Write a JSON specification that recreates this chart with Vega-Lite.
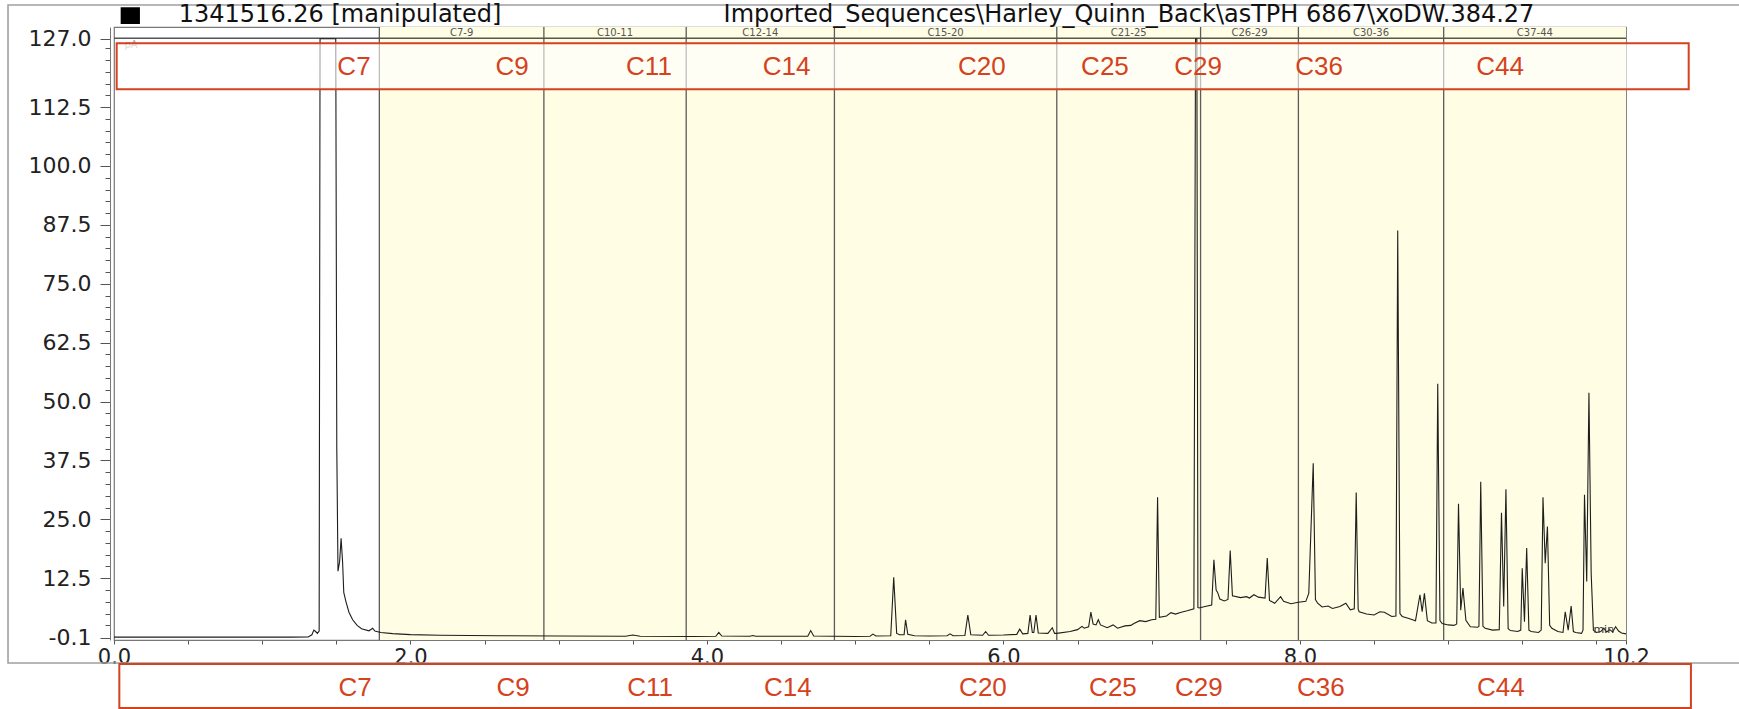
{
  "$schema": "https://vega.github.io/schema/vega-lite/v6.json",
  "width": 1512,
  "height": 613,
  "autosize": {"type": "none"},
  "padding": {"left": 114, "top": 27, "right": 113, "bottom": 69},
  "background": "white",
  "config": {"view": {"stroke": "#777", "strokeWidth": 1.2}, "font": "DejaVu Sans", "axis": {"labelOverlap": false}},
  "resolve": {"axis": {"y": "independent"}},
  "datasets": {
    "signal": [
      {"t": 0.0, "pA": 0.0}, {"t": 0.4, "pA": 0.0}, {"t": 0.8, "pA": 0.0}, {"t": 1.2, "pA": 0.0},
      {"t": 1.31, "pA": 0.05}, {"t": 1.335, "pA": 0.5}, {"t": 1.348, "pA": 1.5}, {"t": 1.36, "pA": 1.2},
      {"t": 1.372, "pA": 0.8}, {"t": 1.384, "pA": 1.3}, {"t": 1.39, "pA": 127}, {"t": 1.496, "pA": 127},
      {"t": 1.503, "pA": 40}, {"t": 1.511, "pA": 14}, {"t": 1.522, "pA": 16}, {"t": 1.532, "pA": 21},
      {"t": 1.542, "pA": 16}, {"t": 1.55, "pA": 9.5}, {"t": 1.565, "pA": 7.5}, {"t": 1.585, "pA": 5.3},
      {"t": 1.61, "pA": 3.7}, {"t": 1.64, "pA": 2.5}, {"t": 1.67, "pA": 1.8}, {"t": 1.72, "pA": 1.35},
      {"t": 1.745, "pA": 1.9}, {"t": 1.76, "pA": 1.3}, {"t": 1.8, "pA": 1.0}, {"t": 1.88, "pA": 0.75},
      {"t": 2.0, "pA": 0.55}, {"t": 2.2, "pA": 0.4}, {"t": 2.6, "pA": 0.3}, {"t": 3.0, "pA": 0.25},
      {"t": 3.45, "pA": 0.2}, {"t": 3.5, "pA": 0.45}, {"t": 3.55, "pA": 0.2}, {"t": 3.9, "pA": 0.15},
      {"t": 4.06, "pA": 0.2}, {"t": 4.08, "pA": 1.0}, {"t": 4.1, "pA": 0.25}, {"t": 4.29, "pA": 0.2},
      {"t": 4.31, "pA": 0.35}, {"t": 4.33, "pA": 0.2}, {"t": 4.68, "pA": 0.2}, {"t": 4.7, "pA": 1.4},
      {"t": 4.72, "pA": 0.25}, {"t": 5.0, "pA": 0.15}, {"t": 5.1, "pA": 0.2}, {"t": 5.12, "pA": 0.65},
      {"t": 5.14, "pA": 0.25}, {"t": 5.24, "pA": 0.3}, {"t": 5.26, "pA": 12.7}, {"t": 5.28, "pA": 0.8},
      {"t": 5.3, "pA": 0.5}, {"t": 5.33, "pA": 0.5}, {"t": 5.34, "pA": 3.7}, {"t": 5.355, "pA": 0.6},
      {"t": 5.4, "pA": 0.3}, {"t": 5.5, "pA": 0.25}, {"t": 5.62, "pA": 0.3}, {"t": 5.64, "pA": 0.7},
      {"t": 5.66, "pA": 0.3}, {"t": 5.74, "pA": 0.35}, {"t": 5.76, "pA": 4.7}, {"t": 5.78, "pA": 0.5},
      {"t": 5.86, "pA": 0.4}, {"t": 5.88, "pA": 1.2}, {"t": 5.9, "pA": 0.4}, {"t": 6.0, "pA": 0.45},
      {"t": 6.09, "pA": 0.6}, {"t": 6.11, "pA": 1.7}, {"t": 6.13, "pA": 0.7}, {"t": 6.165, "pA": 0.8},
      {"t": 6.18, "pA": 4.7}, {"t": 6.195, "pA": 1.0}, {"t": 6.205, "pA": 1.0}, {"t": 6.22, "pA": 4.7},
      {"t": 6.235, "pA": 0.9}, {"t": 6.3, "pA": 0.8}, {"t": 6.33, "pA": 2.0}, {"t": 6.345, "pA": 0.8},
      {"t": 6.36, "pA": 0.8}, {"t": 6.45, "pA": 1.2}, {"t": 6.5, "pA": 1.6}, {"t": 6.53, "pA": 2.3},
      {"t": 6.545, "pA": 1.9}, {"t": 6.575, "pA": 2.2}, {"t": 6.59, "pA": 5.3}, {"t": 6.605, "pA": 2.8},
      {"t": 6.625, "pA": 2.6}, {"t": 6.64, "pA": 3.7}, {"t": 6.655, "pA": 2.6}, {"t": 6.7, "pA": 2.0},
      {"t": 6.74, "pA": 2.6}, {"t": 6.77, "pA": 1.9}, {"t": 6.82, "pA": 2.4}, {"t": 6.86, "pA": 2.5},
      {"t": 6.88, "pA": 2.9}, {"t": 6.92, "pA": 3.5}, {"t": 6.96, "pA": 3.3}, {"t": 7.0, "pA": 3.7},
      {"t": 7.028, "pA": 3.8}, {"t": 7.04, "pA": 29.7}, {"t": 7.052, "pA": 4.2}, {"t": 7.1, "pA": 4.5},
      {"t": 7.13, "pA": 5.2}, {"t": 7.16, "pA": 4.9}, {"t": 7.2, "pA": 5.3}, {"t": 7.24, "pA": 5.6},
      {"t": 7.285, "pA": 6.0}, {"t": 7.296, "pA": 127}, {"t": 7.305, "pA": 127}, {"t": 7.312, "pA": 6.3},
      {"t": 7.32, "pA": 6.2}, {"t": 7.36, "pA": 6.5}, {"t": 7.405, "pA": 6.8}, {"t": 7.42, "pA": 16.4},
      {"t": 7.435, "pA": 10}, {"t": 7.445, "pA": 9.5}, {"t": 7.46, "pA": 8.1}, {"t": 7.49, "pA": 7.7},
      {"t": 7.515, "pA": 8.0}, {"t": 7.53, "pA": 18.4}, {"t": 7.545, "pA": 8.8}, {"t": 7.6, "pA": 8.4},
      {"t": 7.64, "pA": 8.6}, {"t": 7.66, "pA": 8.3}, {"t": 7.69, "pA": 9.0}, {"t": 7.72, "pA": 8.5},
      {"t": 7.765, "pA": 8.3}, {"t": 7.78, "pA": 16.8}, {"t": 7.795, "pA": 7.8}, {"t": 7.83, "pA": 7.2},
      {"t": 7.87, "pA": 8.6}, {"t": 7.89, "pA": 7.6}, {"t": 7.94, "pA": 7.1}, {"t": 7.99, "pA": 7.4},
      {"t": 8.04, "pA": 7.6}, {"t": 8.06, "pA": 9.3}, {"t": 8.09, "pA": 36.9}, {"t": 8.105, "pA": 8.0},
      {"t": 8.12, "pA": 7.2}, {"t": 8.15, "pA": 6.4}, {"t": 8.19, "pA": 6.6}, {"t": 8.22, "pA": 6.1},
      {"t": 8.27, "pA": 6.5}, {"t": 8.31, "pA": 7.2}, {"t": 8.34, "pA": 5.8}, {"t": 8.367, "pA": 6.0},
      {"t": 8.38, "pA": 30.7}, {"t": 8.393, "pA": 6.0}, {"t": 8.4, "pA": 5.4}, {"t": 8.45, "pA": 4.9},
      {"t": 8.5, "pA": 4.7}, {"t": 8.54, "pA": 5.4}, {"t": 8.57, "pA": 5.3}, {"t": 8.62, "pA": 4.4},
      {"t": 8.648, "pA": 4.5}, {"t": 8.66, "pA": 86.3}, {"t": 8.675, "pA": 5.0}, {"t": 8.69, "pA": 4.4},
      {"t": 8.73, "pA": 4.0}, {"t": 8.78, "pA": 3.5}, {"t": 8.81, "pA": 9.0}, {"t": 8.825, "pA": 5.4},
      {"t": 8.84, "pA": 9.3}, {"t": 8.86, "pA": 3.5}, {"t": 8.89, "pA": 3.0}, {"t": 8.918, "pA": 3.0},
      {"t": 8.93, "pA": 53.8}, {"t": 8.945, "pA": 3.5}, {"t": 8.96, "pA": 2.9}, {"t": 9.0, "pA": 2.6},
      {"t": 9.04, "pA": 2.5}, {"t": 9.058, "pA": 2.8}, {"t": 9.07, "pA": 28.3}, {"t": 9.085, "pA": 5.7},
      {"t": 9.1, "pA": 10.4}, {"t": 9.12, "pA": 3.6}, {"t": 9.15, "pA": 2.2}, {"t": 9.2, "pA": 2.1},
      {"t": 9.208, "pA": 2.3}, {"t": 9.22, "pA": 33.0}, {"t": 9.235, "pA": 2.3}, {"t": 9.25, "pA": 1.9},
      {"t": 9.3, "pA": 1.5}, {"t": 9.345, "pA": 1.6}, {"t": 9.36, "pA": 26.4}, {"t": 9.375, "pA": 6.5},
      {"t": 9.39, "pA": 31.4}, {"t": 9.405, "pA": 1.8}, {"t": 9.42, "pA": 1.4}, {"t": 9.47, "pA": 1.2},
      {"t": 9.49, "pA": 1.5}, {"t": 9.5, "pA": 14.6}, {"t": 9.515, "pA": 3.3}, {"t": 9.53, "pA": 18.9},
      {"t": 9.545, "pA": 1.5}, {"t": 9.56, "pA": 1.2}, {"t": 9.61, "pA": 1.0}, {"t": 9.628, "pA": 1.5},
      {"t": 9.64, "pA": 29.7}, {"t": 9.655, "pA": 15.7}, {"t": 9.67, "pA": 23.5}, {"t": 9.685, "pA": 2.5},
      {"t": 9.7, "pA": 1.9}, {"t": 9.74, "pA": 1.2}, {"t": 9.775, "pA": 1.0}, {"t": 9.79, "pA": 5.4},
      {"t": 9.81, "pA": 1.5}, {"t": 9.83, "pA": 6.6}, {"t": 9.845, "pA": 1.2}, {"t": 9.86, "pA": 1.0},
      {"t": 9.9, "pA": 0.8}, {"t": 9.91, "pA": 1.5}, {"t": 9.92, "pA": 30.2}, {"t": 9.935, "pA": 11.8},
      {"t": 9.95, "pA": 51.9}, {"t": 9.965, "pA": 13.6}, {"t": 9.98, "pA": 1.5}, {"t": 10.0, "pA": 1.0},
      {"t": 10.03, "pA": 1.2}, {"t": 10.05, "pA": 1.9}, {"t": 10.07, "pA": 1.1}, {"t": 10.09, "pA": 1.6},
      {"t": 10.11, "pA": 1.1}, {"t": 10.13, "pA": 2.2}, {"t": 10.15, "pA": 1.3}, {"t": 10.17, "pA": 0.9},
      {"t": 10.2, "pA": 0.7}
    ],
    "bands": [
      {"range": "C7-9", "start": 1.79, "end": 2.9, "mid": 2.345},
      {"range": "C10-11", "start": 2.9, "end": 3.86, "mid": 3.38},
      {"range": "C12-14", "start": 3.86, "end": 4.86, "mid": 4.36},
      {"range": "C15-20", "start": 4.86, "end": 6.36, "mid": 5.61},
      {"range": "C21-25", "start": 6.36, "end": 7.33, "mid": 6.845},
      {"range": "C26-29", "start": 7.33, "end": 7.99, "mid": 7.66},
      {"range": "C30-36", "start": 7.99, "end": 8.97, "mid": 8.48},
      {"range": "C37-44", "start": 8.97, "end": 10.2, "mid": 9.585}
    ],
    "markers": [
      {"row": "top", "name": "C7", "t": 1.619}, {"row": "top", "name": "C9", "t": 2.685},
      {"row": "top", "name": "C11", "t": 3.609}, {"row": "top", "name": "C14", "t": 4.537},
      {"row": "top", "name": "C20", "t": 5.855}, {"row": "top", "name": "C25", "t": 6.685},
      {"row": "top", "name": "C29", "t": 7.313}, {"row": "top", "name": "C36", "t": 8.129},
      {"row": "top", "name": "C44", "t": 9.35},
      {"row": "bottom", "name": "C7", "t": 1.626}, {"row": "bottom", "name": "C9", "t": 2.692},
      {"row": "bottom", "name": "C11", "t": 3.616}, {"row": "bottom", "name": "C14", "t": 4.546},
      {"row": "bottom", "name": "C20", "t": 5.862}, {"row": "bottom", "name": "C25", "t": 6.739},
      {"row": "bottom", "name": "C29", "t": 7.319}, {"row": "bottom", "name": "C36", "t": 8.142},
      {"row": "bottom", "name": "C44", "t": 9.356}
    ],
    "headings": [
      {"text": "1341516.26 [manipulated]", "t": 1.525},
      {"text": "Imported_Sequences\\Harley_Quinn_Back\\asTPH 6867\\xoDW.384.27", "t": 6.847}
    ],
    "one": [{"item": 1}]
  },
  "layer": [
    {
      "data": {"name": "one"},
      "mark": {"type": "rect", "fill": null, "stroke": "#a0a0a0", "strokeWidth": 1.6},
      "encoding": {
        "x": {"datum": -0.715, "type": "quantitative"}, "x2": {"datum": 11.1},
        "y": {"datum": -5.47, "type": "quantitative", "axis": null}, "y2": {"datum": 134.17}
      }
    },
    {
      "data": {"name": "bands"},
      "mark": {"type": "rect", "fill": "#fffde3"},
      "encoding": {"x": {"field": "start", "type": "quantitative"}, "x2": {"field": "end"}}
    },
    {
      "data": {"name": "bands"},
      "mark": {"type": "rule", "stroke": "#5c5c5c", "strokeWidth": 1.3},
      "encoding": {"x": {"field": "start", "type": "quantitative"}}
    },
    {
      "data": {"name": "bands"},
      "mark": {"type": "text", "fontSize": 10, "fill": "#555", "baseline": "middle"},
      "encoding": {
        "x": {"field": "mid", "type": "quantitative"},
        "y": {"datum": 128.3, "type": "quantitative", "axis": null},
        "text": {"field": "range"}
      }
    },
    {
      "data": {"name": "one"},
      "mark": {"type": "rule", "stroke": "#555", "strokeWidth": 1.6},
      "encoding": {
        "x": {"datum": 0, "type": "quantitative"}, "x2": {"datum": 10.2},
        "y": {"datum": 127.1, "type": "quantitative", "axis": null}
      }
    },
    {
      "data": {"name": "one"},
      "mark": {"type": "rule", "strokeOpacity": 0},
      "encoding": {
        "y": {
          "datum": 0, "type": "quantitative",
          "axis": {
            "orient": "left", "offset": 4, "title": null, "grid": false, "domain": false, "labels": false,
            "values": [2.5, 5, 7.5, 10, 15, 17.5, 20, 22.5, 27.5, 30, 32.5, 35, 40, 42.5, 45, 47.5, 52.5, 55, 57.5, 60, 65, 67.5, 70, 72.5, 77.5, 80, 82.5, 85, 90, 92.5, 95, 97.5, 102.5, 105, 107.5, 110, 115, 117.5, 120, 122.5, 125],
            "tickSize": 5, "tickColor": "#555"
          }
        }
      }
    },
    {
      "data": {"name": "signal"},
      "mark": {"type": "line", "stroke": "#1e1e1e", "strokeWidth": 1.1},
      "encoding": {
        "x": {
          "field": "t", "type": "quantitative",
          "scale": {"domain": [0, 10.2], "nice": false, "zero": false},
          "axis": {
            "title": null, "grid": false,
            "values": [0, 0.5, 1, 1.5, 2, 2.5, 3, 3.5, 4, 4.5, 5, 5.5, 6, 6.5, 7, 7.5, 8, 8.5, 9, 9.5, 10, 10.2],
            "labelExpr": "indexof([0, 2, 4, 6, 8, 10.2], datum.value) >= 0 ? format(datum.value, '.1f') : ''",
            "tickSize": 4, "tickColor": "#555", "domainColor": "#777",
            "labelFont": "DejaVu Sans", "labelFontSize": 21, "labelColor": "#222", "labelPadding": 2,
            "labelFlush": false, "labelOverlap": false, "labelBound": false
          }
        },
        "y": {
          "field": "pA", "type": "quantitative",
          "scale": {"domain": [-0.6, 129.5], "nice": false, "zero": false},
          "axis": {
            "orient": "left", "title": null, "grid": false, "offset": 4,
            "values": [-0.1, 12.5, 25, 37.5, 50, 62.5, 75, 87.5, 100, 112.5, 127],
            "labelExpr": "replace(format(datum.value, '.1f'), '\u2212', '-')",
            "tickSize": 10, "tickColor": "#555", "domainColor": "#777",
            "labelFont": "DejaVu Sans", "labelFontSize": 22, "labelColor": "#222", "labelPadding": 9,
            "labelOverlap": false, "labelBound": false, "labelFlush": false
          }
        }
      }
    },
    {
      "data": {"name": "one"},
      "mark": {"type": "text", "fontSize": 10, "fill": "#a8a8a8", "align": "left", "baseline": "middle", "text": "pA"},
      "encoding": {"x": {"datum": 0.07, "type": "quantitative"}, "y": {"datum": 125.6, "type": "quantitative", "axis": null}}
    },
    {
      "data": {"name": "one"},
      "mark": {"type": "text", "fontSize": 11, "fill": "#333", "align": "center", "baseline": "middle", "text": "min"},
      "encoding": {"x": {"datum": 10.05, "type": "quantitative"}, "y": {"datum": 1.6, "type": "quantitative", "axis": null}}
    },
    {
      "data": {"name": "one"},
      "mark": {"type": "rect", "fill": "white", "fillOpacity": 0.6, "stroke": "#d4421e", "strokeWidth": 2},
      "encoding": {
        "x": {"datum": 0.018, "type": "quantitative"}, "x2": {"datum": 10.623},
        "y": {"datum": 116.28, "type": "quantitative", "axis": null}, "y2": {"datum": 126.04}
      }
    },
    {
      "data": {"name": "one"},
      "mark": {"type": "rect", "fill": null, "stroke": "#d4421e", "strokeWidth": 2},
      "encoding": {
        "x": {"datum": 0.036, "type": "quantitative"}, "x2": {"datum": 10.638},
        "y": {"datum": -15.02, "type": "quantitative", "axis": null}, "y2": {"datum": -5.69}
      }
    },
    {
      "data": {"name": "markers"},
      "transform": [{"filter": "datum.row === 'top'"}],
      "mark": {"type": "text", "font": "Liberation Sans", "fontSize": 26, "fill": "#d4421e", "baseline": "middle"},
      "encoding": {
        "x": {"field": "t", "type": "quantitative"},
        "y": {"datum": 121.07, "type": "quantitative", "axis": null},
        "text": {"field": "name"}
      }
    },
    {
      "data": {"name": "markers"},
      "transform": [{"filter": "datum.row === 'bottom'"}],
      "mark": {"type": "text", "font": "Liberation Sans", "fontSize": 26, "fill": "#d4421e", "baseline": "middle"},
      "encoding": {
        "x": {"field": "t", "type": "quantitative"},
        "y": {"datum": -10.78, "type": "quantitative", "axis": null},
        "text": {"field": "name"}
      }
    },
    {
      "data": {"name": "one"},
      "mark": {"type": "rect", "fill": "#000"},
      "encoding": {
        "x": {"datum": 0.045, "type": "quantitative"}, "x2": {"datum": 0.175},
        "y": {"datum": 130.14, "type": "quantitative", "axis": null}, "y2": {"datum": 133.68}
      }
    },
    {
      "data": {"name": "headings"},
      "mark": {"type": "text", "font": "DejaVu Sans", "fontSize": 24, "fill": "#111", "baseline": "middle"},
      "encoding": {
        "x": {"field": "t", "type": "quantitative"},
        "y": {"datum": 132.0, "type": "quantitative", "axis": null},
        "text": {"field": "text"}
      }
    }
  ]
}
